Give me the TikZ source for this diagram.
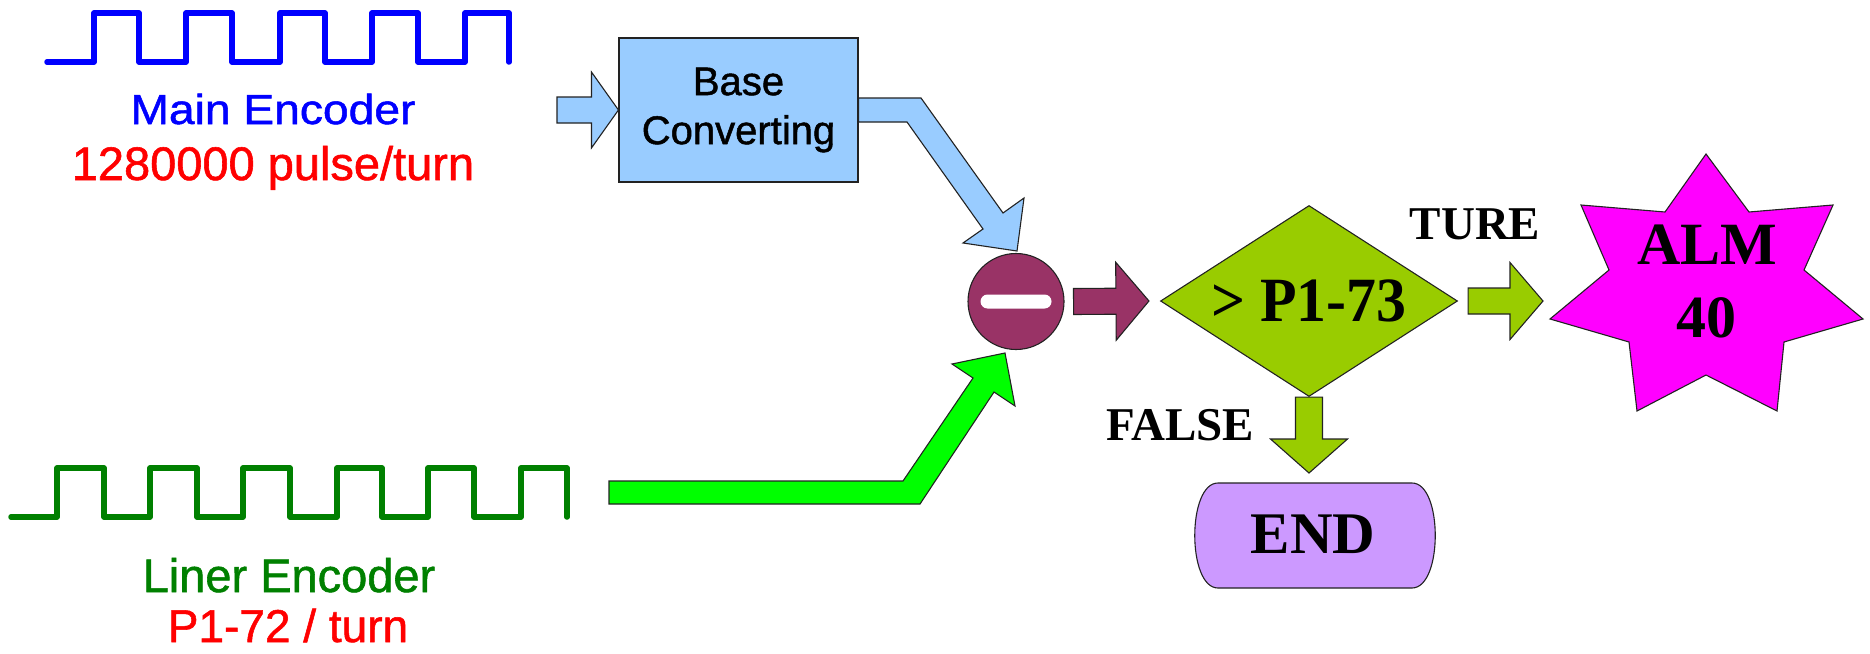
\documentclass[tikz,border=0pt]{standalone}
\usepackage{fontspec}
\setmainfont{Liberation Serif}
\newfontfamily\arialf[FakeBold=1.2]{Liberation Sans}
\newfontfamily\arialwide[FakeBold=1.2,FakeStretch=1.1]{Liberation Sans}
\newfontfamily\timesnarrow[FakeStretch=0.95]{Liberation Serif}
\usetikzlibrary{calc,shapes.geometric}
\definecolor{lblue}{HTML}{99CCFF}
\definecolor{lgreen}{HTML}{00FF00}
\definecolor{plum}{HTML}{993366}
\definecolor{limeg}{HTML}{99CC00}
\definecolor{magent}{HTML}{FF00FF}
\definecolor{lavend}{HTML}{CC99FF}
\definecolor{dgreen}{HTML}{008000}
\definecolor{edge}{HTML}{222222}
% style, start, end, shaft half width, head half width, head length
\newcommand{\blockarrow}[6]{%
  \coordinate (#2h) at ($(#3)!#6pt!(#2)$);
  \path[#1] ($(#2)!#4pt!90:(#3)$) -- ($(#2h)!#4pt!90:(#3)$) -- ($(#2h)!#5pt!90:(#3)$) -- (#3)
    -- ($(#2h)!#5pt!-90:(#3)$) -- ($(#2h)!#4pt!-90:(#3)$) -- ($(#2)!#4pt!-90:(#3)$) -- cycle;}
\tikzset{
  shapeline/.style={draw=edge, line width=1.1pt},
  sansbig/.style={font=\arialf\fontsize{47}{56}\selectfont},
  seriflabel/.style={font=\bfseries\fontsize{47}{56}\selectfont},
  serifbig/.style={font=\bfseries\fontsize{60}{72}\selectfont},
  wave/.style={line width=5.5pt, line cap=round, line join=round},
}
\begin{document}
\begin{tikzpicture}[x=1pt,y=-1pt]
\path[use as bounding box] (0,0) rectangle (1870,653);

% main encoder wave
\draw[wave, blue] (47,62) -- (94,62) -- (94,13) -- (139,13) -- (139,62) -- (186,62) -- (186,13) -- (232,13) -- (232,62)
  -- (280,62) -- (280,13) -- (325,13) -- (325,62) -- (372,62) -- (372,13) -- (418,13) -- (418,62) -- (465,62) -- (465,13)
  -- (509,13) -- (509,62);
\node[font=\arialwide\fontsize{42}{50}\selectfont, text=blue, anchor=base] (me) at (273,124) {Main Encoder};
\node[sansbig, text=red, anchor=base] (mep) at (273,180) {1280000 pulse/turn};

% liner encoder wave
\draw[wave, dgreen] (11,517) -- (57,517) -- (57,468) -- (104,468) -- (104,517) -- (150,517) -- (150,468) -- (197,468)
  -- (197,517) -- (243,517) -- (243,468) -- (290,468) -- (290,517) -- (337,517) -- (337,468) -- (382,468) -- (382,517)
  -- (428,517) -- (428,468) -- (474,468) -- (474,517) -- (521,517) -- (521,468) -- (567,468) -- (567,517);
\node[sansbig, text=dgreen, anchor=base] (le) at (289,592) {Liner Encoder};
\node[font=\arialf\fontsize{46}{54}\selectfont, text=red, anchor=base, inner sep=0pt, text depth=0pt] (lep) at (288,642) {P1-72 / turn};

% base converting
\node[shapeline, fill=lblue, minimum width=239, minimum height=144, inner sep=0, align=center,
  font=\arialf\fontsize{40}{49}\selectfont] (bc) at (738.5,110) {Base\\Converting};

% minus circle
\node[shapeline, circle, fill=plum, minimum size=96, inner sep=0,
  path picture={\fill[white, rounded corners=7pt]
    ($(path picture bounding box.center)+(-35.5,-7)$) rectangle ($(path picture bounding box.center)+(35.5,7)$);}]
  (minus) at (1016,301.5) {};

% comparison diamond
\node[shapeline, diamond, aspect=1.555, minimum width=297, minimum height=191, inner sep=0, fill=limeg,
  font=\timesnarrow\bfseries\fontsize{63}{74}\selectfont]
  (cmp) at (1309,301) {> P1-73};

% alarm star
\draw[shapeline, fill=magent] (1706,154) -- (1749,212) -- (1833,205) -- (1804,270) -- (1863,319) -- (1784,342)
  -- (1777,411) -- (1706,375) -- (1637,411) -- (1629,342) -- (1550,319) -- (1609,270) -- (1581,205) -- (1665,212) -- cycle;
\node[serifbig, anchor=base] (alm) at (1707,264) {ALM};
\node[serifbig, anchor=base] (alm40) at (1706,337) {40};

% end terminator
\draw[shapeline, fill=lavend] (1218,483) -- (1412,483) .. controls (1443,483) and (1443,588) .. (1412,588)
  -- (1218,588) .. controls (1187,588) and (1187,483) .. (1218,483) -- cycle;
\node[font=\bfseries\fontsize{59}{70}\selectfont, anchor=base] (endn) at (1313,553) {END};

% labels
\node[seriflabel, anchor=base] (ture) at (1475,239) {TURE};
\node[seriflabel, anchor=base] (false) at (1180,440) {FALSE};

% straight block arrows
\coordinate (aas) at (557,110);
\coordinate (aae) at (bc.west);
\blockarrow{shapeline, fill=lblue}{aas}{aae}{13}{38}{27}
\coordinate (abs) at ($(minus.east)+(9,0)$);
\coordinate (abe) at ($(cmp.west)+(-11,0)$);
\blockarrow{shapeline, fill=plum}{abs}{abe}{13}{39}{33}
\coordinate (acs) at ($(cmp.east)+(10,0)$);
\coordinate (ace) at (1543,301);
\blockarrow{shapeline, fill=limeg}{acs}{ace}{13}{38.5}{33}
\coordinate (ads) at (cmp.south);
\coordinate (ade) at (1309,473);
\blockarrow{shapeline, fill=limeg}{ads}{ade}{13.5}{38.5}{34}

% bent block arrows
\draw[shapeline, fill=lblue] (bc.east |- 0,98) -- (921,98) -- (1003,213) -- (1024,198) -- (1017,251) -- (963,243)
  -- (983,229) -- (907,122) -- (bc.east |- 0,122) -- cycle;
\draw[shapeline, fill=lgreen] (609,481) -- (903,481) -- (973,378) -- (952,364) -- (1005,353) -- (1015,406)
  -- (994,392) -- (920,504) -- (609,504) -- cycle;
\end{tikzpicture}
\end{document}
